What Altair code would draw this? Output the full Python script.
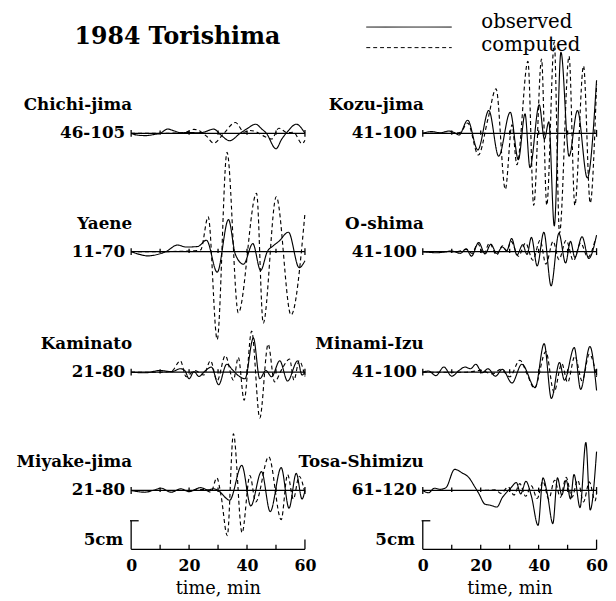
import altair as alt
import pandas as pd

# ---------------- data: time in minutes, water level in cm ----------------
title_text = "1984 Torishima"
left_names = ["Chichi-jima", "Yaene", "Kaminato", "Miyake-jima"]
left_ranges = ["46-105", "11-70", "21-80", "21-80"]
right_names = ["Kozu-jima", "O-shima", "Minami-Izu", "Tosa-Shimizu"]
right_ranges = ["41-100", "41-100", "41-100", "61-120"]
series_names = ["observed", "computed"]
axis_ticks = [0, 20, 40, 60]
minor_ticks = [10, 20, 30, 40, 50]
scale_bar_cm = 5

chichi_obs_t = [0, 2, 5, 8, 10, 12.6, 15, 17, 20, 23, 25, 28.5, 31, 34, 37.6, 40, 43, 45, 46.7, 50, 52, 54, 57, 60]
chichi_obs_v = [0, -0.3, -0.4, -0.2, 0, 0.75, 0.4, 0.1, 0.15, 0.1, 0.2, 0.75, -0.3, -1.3, 0, 0.8, 1.6, 0.8, 0, -2.7, -1.0, 0.3, 1.6, 0]
chichi_com_t = [0, 10, 17, 19, 21.7, 24, 26, 28.5, 32, 36, 39, 41, 43, 45.5, 48.5, 51, 54, 56, 59, 60]
chichi_com_v = [0, 0, 0.1, 0.2, 0.7, 0.3, -0.5, -1.7, 0, 1.9, 0.2, 0.5, 0.3, -0.4, -1.0, 0.9, 0.1, 0.2, -1.8, -1.2]

yaene_obs_t = [0, 3, 5.8, 9, 12, 16, 19, 23, 26, 29.7, 33.6, 36, 38.8, 42, 44.7, 47, 49, 51, 54.3, 58, 60]
yaene_obs_v = [0, -0.5, -0.75, -0.5, 0, 1.15, 0.8, 0.9, 2.0, -3.6, 5.6, -0.5, -2.2, 1.4, -3.3, 0, 1.0, 1.8, 3.4, -2.8, -1.6]
yaene_com_t = [0, 10, 20, 24, 26.6, 29.7, 33.1, 37, 43.3, 45.6, 50.1, 55.2, 60]
yaene_com_v = [0, 0, 0.1, 0.3, 6.1, -15.4, 17.4, -10.7, 10.2, -12.5, 9.6, -11.1, 6.7]

kaminato_obs_t = [0, 5, 10, 14, 17, 18.5, 20, 21.7, 23.4, 25.5, 27.7, 30.2, 33, 35, 37, 39.3, 42.2, 44.4, 46.5, 48.5, 51.3, 54, 57.5, 59, 60]
kaminato_obs_v = [0, -0.1, 0.3, 0.1, 0.6, 0.3, -1.15, 0.1, -0.75, 0.2, 0.9, -2.2, 1.4, 0.4, -0.6, -1.15, 6.0, -1.15, 0.3, -0.8, 2.0, -1.55, 2.0, -0.5, 0]
kaminato_com_t = [0, 10, 14, 17, 19, 22, 25, 27.4, 29.7, 32.5, 35.3, 37, 39, 41.6, 44.4, 47.3, 49.5, 52, 54.7, 56.2, 58, 60]
kaminato_com_v = [0, 0, 0.2, 2.0, -0.8, 0.3, -0.5, 2.0, -1.5, 2.9, -1.4, 2.6, -4.9, 7.2, -8.0, 4.9, -1.7, 0.5, 2.3, -1.4, 2.0, -0.8]

miyake_obs_t = [0, 4.7, 7.5, 10.3, 13.8, 17.2, 20, 24, 26.5, 28.5, 30.5, 34, 38.2, 41.3, 45, 48, 51.8, 54.5, 57, 59, 60]
miyake_obs_v = [0, -0.3, 0, 0.4, -0.3, 0.3, -0.2, 0.5, 0.1, 0.3, -0.2, -1.7, 4.4, -2.7, 3.3, -3.7, 4.0, -3.1, 3.0, -1.5, 0]
miyake_com_t = [0, 20, 25, 27.5, 29.6, 31, 33.2, 35.3, 38.3, 41, 43, 47.5, 51.8, 54, 56, 58, 60]
miyake_com_v = [0, 0, 0.2, -0.3, 2.2, -0.8, -7.9, 9.9, -7.4, 2.6, -2.0, 5.9, -5.1, 2.8, -1.5, 2.5, -0.5]

kozu_obs_t = [0, 3, 6, 9, 11, 12.5, 15.5, 19, 22.8, 26.2, 30.2, 33, 35.3, 37, 40.2, 42, 43.5, 45.4, 47.7, 50.5, 53.4, 56.8, 60]
kozu_obs_v = [0, 0.3, 0.1, 0.4, 0.1, -0.3, 2.3, -2.9, 4.0, -4.0, 3.7, -4.6, 3.4, -6.0, 5.0, -1.0, 2.0, -16.2, 14.2, -4.0, 4.0, -7.8, 9.3]
kozu_com_t = [0, 10, 13, 15.5, 19.2, 22.5, 25.3, 28.5, 30.8, 32.5, 36.3, 38.3, 41, 42.8, 45.4, 47.2, 50.5, 52.5, 55.5, 57.8, 60]
kozu_com_v = [0, 0, 0.2, 1.8, -3.8, 2.5, 7.8, -9.8, 1.5, -5.5, 12.6, -12.6, 13.0, -12.6, 16.0, -17.5, 13.5, -12.6, 11.8, -12.2, 8.6]

oshima_obs_t = [0, 5, 10, 13, 15, 16.8, 19.3, 21.5, 23.5, 25.5, 27.5, 29, 30.7, 32.5, 34.5, 36, 37.5, 39.5, 41.8, 44.3, 47, 49.3, 51, 52.5, 55, 57.3, 60]
oshima_obs_v = [0, -0.2, 0.1, -0.3, 0.5, -0.8, 1.6, -0.4, 1.3, -0.3, 0.8, 0.2, 2.3, -0.6, 1.2, -0.5, 2.5, -2.5, 3.4, -6.0, 3.2, -2.0, 1.8, -1.0, 2.6, -1.2, 2.9]
oshima_com_t = [0, 12, 15, 17, 19, 21, 23, 25.5, 27.5, 29, 30.5, 33, 35.5, 38, 40.5, 42.5, 45, 47, 49.5, 52, 54.5, 57, 59.5]
oshima_com_v = [0, 0, 0.4, -0.3, 1.4, -0.5, 1.5, -0.6, 1.0, 0.1, 1.8, -0.8, 1.5, -1.5, 2.0, -2.2, 1.8, -1.4, 2.0, -1.6, 1.5, -1.0, 2.0]

minami_obs_t = [0, 2, 4.5, 7.3, 10, 12.5, 14.6, 16.5, 18.3, 20.5, 22.5, 25.1, 27.5, 30.8, 34.2, 38.8, 41.9, 44.4, 47.2, 48.9, 52.3, 54.5, 57.7, 60]
minami_obs_v = [0, 0.2, -0.6, 0.9, -0.7, 0.3, 0.9, 0.6, 1.4, -0.1, 0.6, -0.7, 0.5, -1.9, 1.4, -2.7, 5.0, -4.6, 1.7, -1.4, 4.3, -3.0, 4.5, -3.2]
minami_com_t = [0, 15, 20, 24, 27, 30, 33.5, 36, 38.5, 42.5, 45.3, 48, 50, 52.5, 55, 57.5, 60]
minami_com_v = [0, 0, 0.3, -0.3, 0.5, -0.8, 2.1, -0.3, -2.8, 3.6, -3.5, 1.5, -1.8, 2.8, -1.5, 3.2, -0.8]

tosa_obs_t = [0, 2, 4, 6, 8, 11, 13.5, 16, 18, 19.2, 21.5, 23.5, 25.6, 27.5, 29, 30.5, 32.3, 33.8, 35.6, 37.5, 39.8, 41.5, 43, 44.9, 46.5, 48, 49.5, 51, 52.2, 54.3, 56.3, 57.8, 60]
tosa_obs_v = [0, -0.4, 0.4, 0.2, 0.5, 3.7, 3.1, 2.2, 0.6, -0.4, -2.4, -2.6, -2.9, -1.2, -0.3, 0.5, 1.4, -0.6, 1.6, -1.0, -6.1, 2.2, -0.6, -5.8, 2.2, -0.8, 1.8, -1.5, 2.8, -3.0, 8.4, -3.4, 6.8]
tosa_com_t = [0, 20, 25, 27, 29.5, 31.5, 33.5, 35.5, 37.5, 39.5, 41.5, 43.5, 45.5, 47.5, 49.5, 51.5, 53.5, 55.5, 57.5, 59.5, 60]
tosa_com_v = [0, 0, 0.1, -0.5, 0.6, -0.8, 1.2, -1.0, 0.8, -1.4, 1.6, -1.5, 1.8, -1.2, 2.3, -1.2, 1.8, -2.0, 1.5, -1.8, -0.5]

left_traces = [
    (chichi_obs_t, chichi_obs_v, chichi_com_t, chichi_com_v),
    (yaene_obs_t, yaene_obs_v, yaene_com_t, yaene_com_v),
    (kaminato_obs_t, kaminato_obs_v, kaminato_com_t, kaminato_com_v),
    (miyake_obs_t, miyake_obs_v, miyake_com_t, miyake_com_v),
]
right_traces = [
    (kozu_obs_t, kozu_obs_v, kozu_com_t, kozu_com_v),
    (oshima_obs_t, oshima_obs_v, oshima_com_t, oshima_com_v),
    (minami_obs_t, minami_obs_v, minami_com_t, minami_com_v),
    (tosa_obs_t, tosa_obs_v, tosa_com_t, tosa_com_v),
]

# ---------------- layout ----------------
PX_MIN = 2.94          # pixels per minute
PX_CM = 5.8            # pixels per cm
PLOT_H = 544
Y_TOP = PLOT_H / PX_CM
BASES = [72.8, 52.1, 31.0, 10.3]   # vertical offset (cm above the time axis) of each record
FONT = "DejaVu Serif"
DASH = alt.Scale(domain=series_names, range=[[1, 0], [4, 3]])


def build_panel(names, ranges, traces, zero_px, width, title_center_px, extra=None):
    xdom = [-zero_px / PX_MIN, (width - zero_px) / PX_MIN]
    X = alt.X("t:Q", scale=alt.Scale(domain=xdom, nice=False, zero=False),
              axis=alt.Axis(values=axis_ticks, title="time, min", titleX=title_center_px,
                            titleY=40, titleBaseline="middle", titleAnchor="middle",
                            titleAlign="center", labelBaseline="middle", labelPadding=16,
                            labelFlush=False, labelOverlap=False))
    Y = alt.Y("y:Q", scale=alt.Scale(domain=[0, Y_TOP], nice=False, zero=False), axis=None)

    rows = []
    for i, (name, (ot, ov, ct, cv)) in enumerate(zip(names, traces)):
        for t, v in zip(ot, ov):
            rows.append(dict(station=name, series="observed", t=t, y=BASES[i] + v))
        for t, v in zip(ct, cv):
            rows.append(dict(station=name, series="computed", t=t, y=BASES[i] + v))
    df = pd.DataFrame(rows)

    lines = alt.Chart(df).mark_line(interpolate="monotone", color="black", strokeWidth=1.15).encode(
        x=X, y=Y, detail="station:N",
        strokeDash=alt.StrokeDash("series:N", scale=DASH, legend=None),
    )

    dec = []
    for b in BASES:
        dec.append(dict(t=0, t2=60, y=b, y2=b))
        dec.append(dict(t=0, t2=0, y=b - 0.6, y2=b + 0.6))
        dec.append(dict(t=60, t2=60, y=b - 0.6, y2=b + 0.6))
        for m in minor_ticks:
            dec.append(dict(t=m, t2=m, y=b - 0.25, y2=b + 0.5))
    dec.append(dict(t=0, t2=60, y=0, y2=0))
    for m in minor_ticks:
        dec.append(dict(t=m, t2=m, y=0, y2=0.8))
    dec.append(dict(t=60, t2=60, y=0, y2=1.7))
    dec.append(dict(t=0, t2=0, y=0, y2=scale_bar_cm))
    dec.append(dict(t=-0.4, t2=2.6, y=scale_bar_cm, y2=scale_bar_cm))
    rules = alt.Chart(pd.DataFrame(dec)).mark_rule(color="black", strokeWidth=1.3).encode(
        x=X, x2="t2:Q", y=Y, y2="y2:Q")

    name_df = pd.DataFrame(dict(t=[0] * 4, y=[b + 4.9 for b in BASES], label=names))
    range_df = pd.DataFrame(dict(t=[0] * 4, y=BASES, label=ranges))
    bar_df = pd.DataFrame(dict(t=[0], y=[1.7], label=[f"{scale_bar_cm}cm"]))
    common = dict(align="right", baseline="middle", font=FONT, fontSize=17, fontWeight="bold",
                  color="black")
    name_txt = alt.Chart(name_df).mark_text(dx=1, **common).encode(x=X, y=Y, text="label:N")
    range_txt = alt.Chart(range_df).mark_text(dx=-6, **common).encode(x=X, y=Y, text="label:N")
    bar_txt = alt.Chart(bar_df).mark_text(dx=-8, **common).encode(x=X, y=Y, text="label:N")
    layers = [rules, lines, name_txt, range_txt, bar_txt]
    if extra:
        layers += extra(X, Y)
    return alt.layer(*layers).properties(width=width, height=PLOT_H)


def title_layer(X, Y):
    d = pd.DataFrame(dict(t=[16], y=[89.6], label=[title_text]))
    return [alt.Chart(d).mark_text(align="center", baseline="middle", font=FONT, fontSize=24,
                                   fontWeight="bold", color="black").encode(x=X, y=Y, text="label:N")]


def legend_layer(X, Y):
    lr = pd.DataFrame(dict(t=[-19.5, -19.5], t2=[10.0, 10.0], y=[91.4, 87.8], series=series_names))
    lt = pd.DataFrame(dict(t=[20.2, 20.2], y=[92.2, 88.3], label=series_names))
    r = alt.Chart(lr).mark_rule(color="black", strokeWidth=1).encode(
        x=X, x2="t2:Q", y=Y, strokeDash=alt.StrokeDash("series:N", scale=DASH, legend=None))
    t = alt.Chart(lt).mark_text(align="left", baseline="middle", font=FONT, fontSize=20,
                                color="black").encode(x=X, y=Y, text="label:N")
    return [r, t]


left = build_panel(left_names, left_ranges, left_traces, zero_px=125, width=313,
                   title_center_px=213, extra=title_layer)
right = build_panel(right_names, right_ranges, right_traces, zero_px=108, width=290,
                    title_center_px=196, extra=legend_layer)

chart = alt.hconcat(left, right, spacing=0, bounds="flush").properties(padding=0).configure_view(
    stroke=None).configure_axis(
    domain=False, ticks=False, tickSize=0, grid=False, labelFont=FONT, labelFontSize=16,
    labelFontWeight="bold", labelColor="black", titleFont=FONT, titleFontSize=18,
    titleFontWeight="normal", titleColor="black")

chart.save("out.html", embed_options={"renderer": "svg", "actions": False})
